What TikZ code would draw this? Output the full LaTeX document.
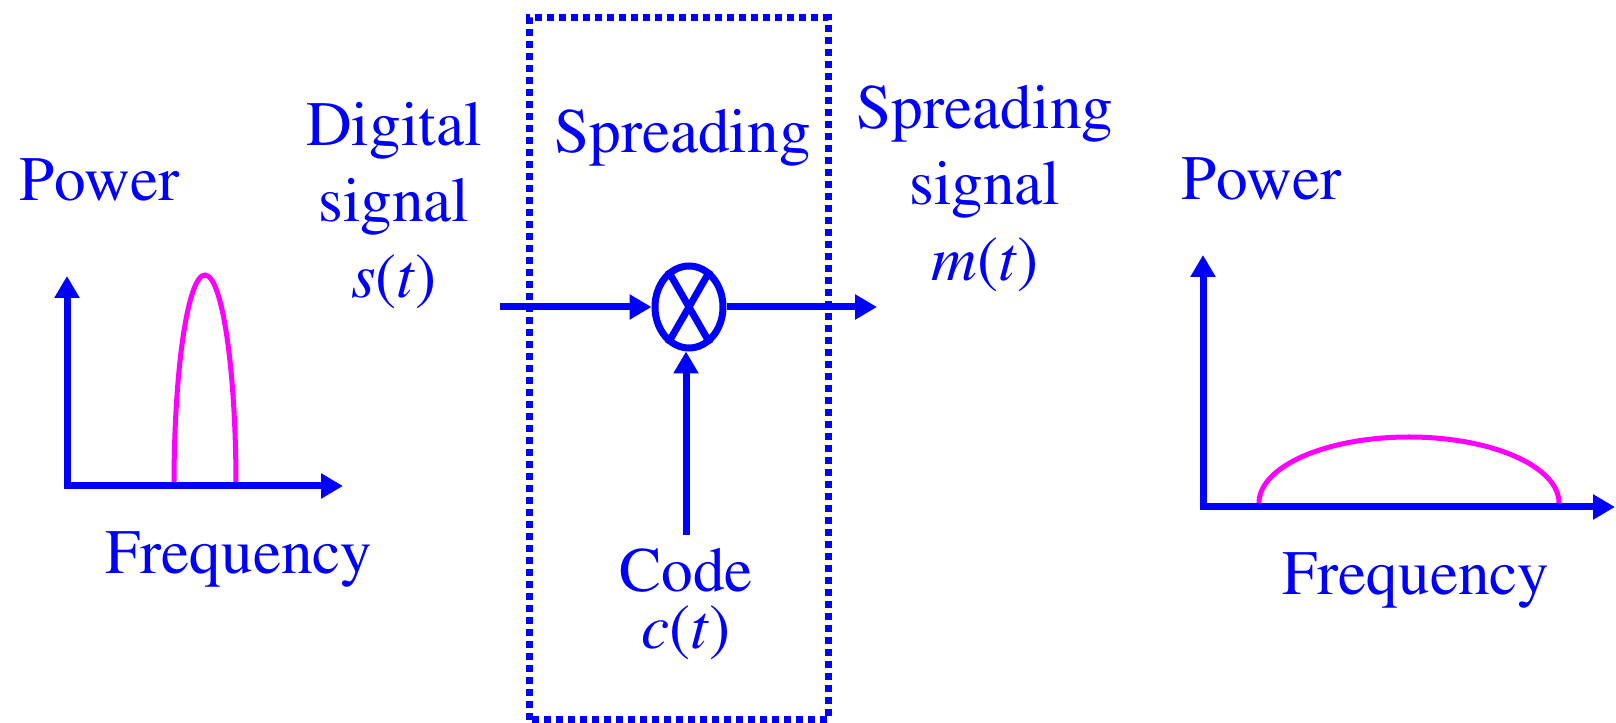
\documentclass[tikz,border=0pt]{standalone}
\usepackage[T1]{fontenc}
\usepackage{times}
\usetikzlibrary{arrows.meta,shapes.geometric,positioning}
\definecolor{pinkline}{RGB}{255,0,255}

\begin{document}
\begin{tikzpicture}[
    ->,
    >={Triangle[length=0.44cm,width=0.48cm]},
    line width=0.14cm,
    blue
]

\tikzstyle{lbl}=[
    text=blue,
    inner sep=0pt,
    align=center,
    font=\fontsize{36}{43.2}\selectfont
]

\tikzstyle{spectrum}=[
    -,
    pinkline,
    line width=0.1cm
]

\useasboundingbox (0,0) rectangle (32.32,14.46);

% spreading block
\draw[-, dash pattern=on 0.14cm off 0.1cm] (10.58,0.06) rectangle (16.56,14.10);
\node[lbl, anchor=base] (blk) at (13.65,11.40) {Spreading};

\node[draw, ellipse, minimum width=1.36cm, minimum height=1.64cm, inner sep=0pt] (mult) at (13.78,8.32) {};
\draw[-] (mult.120) -- (mult.300);
\draw[-] (mult.60) -- (mult.240);

\coordinate (sin) at (10.0,8.32);
\coordinate (mout) at (17.54,8.32);
\draw (sin) -- (mult.west);
\draw (mult.east) -- (mout);

\node[lbl, anchor=north, font=\fontsize{36}{32.4}\selectfont] (code) at (13.72,3.56) {Code\\\textit{c}(\textit{t})};
\draw[shorten <=0.2cm] (code.north) -- (code.north |- mult.south);

\node[lbl, anchor=north] (sig) at (7.88,12.48) {Digital\\signal\\\textit{s}(\textit{t})};
\node[lbl, anchor=north] (spr) at (19.70,12.82) {Spreading\\signal\\\textit{m}(\textit{t})};

% narrow band spectrum
\coordinate (o1) at (1.34,4.74);
\coordinate (y1) at (1.34,8.94);
\coordinate (x1) at (6.86,4.74);
\draw[spectrum] (3.48,4.74) arc[start angle=180, end angle=0, x radius=0.62, y radius=4.22];
\draw[<->] (y1) -- (o1) -- (x1);
\node[lbl, anchor=base west] (pw1) at (0.32,10.44) {Power};
\node[lbl, anchor=base west] (fq1) at (2.04,2.98) {Frequency};

% spread spectrum
\coordinate (o2) at (24.06,4.32);
\coordinate (y2) at (24.06,9.36);
\coordinate (x2) at (32.30,4.32);
\draw[spectrum] (25.18,4.40) arc[start angle=180, end angle=0, x radius=3.0, y radius=1.32];
\draw[<->] (y2) -- (o2) -- (x2);
\node[lbl, anchor=base west] (pw2) at (23.56,10.46) {Power};
\node[lbl, anchor=base west] (fq2) at (25.58,2.56) {Frequency};

\end{tikzpicture}
\end{document}
